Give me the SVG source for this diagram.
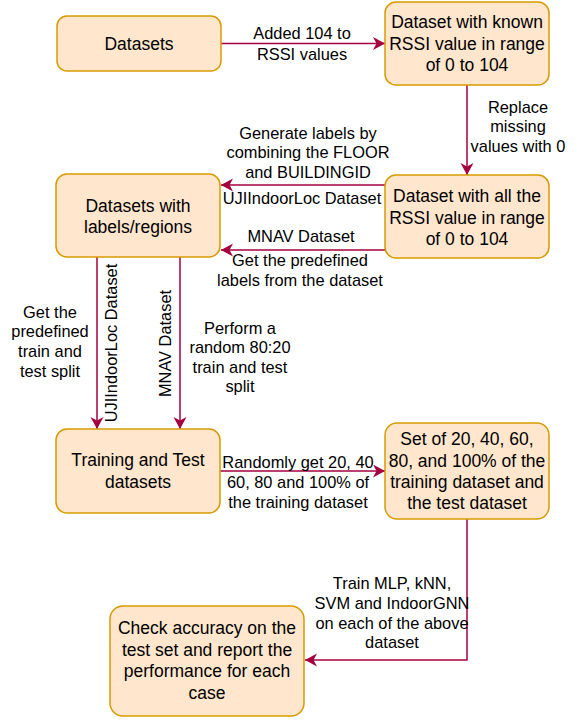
<svg xmlns="http://www.w3.org/2000/svg" width="581" height="720" viewBox="0 0 581 720">
<style>
.node rect{fill:#ffe6cc;stroke:#d79b00;stroke-width:1.5}
.node text{font-family:"Liberation Sans",Arial,sans-serif;font-size:17.5px;fill:#000;text-anchor:middle}
.lbl{font-family:"Liberation Sans",Arial,sans-serif;font-size:16.4px;fill:#000;text-anchor:middle}
.edge{fill:none;stroke:#a50040;stroke-width:1.5}
</style>
<defs>
<marker id="arr" markerUnits="userSpaceOnUse" markerWidth="14" markerHeight="14" refX="12" refY="6.5" orient="auto">
<path d="M0,0 L12,6.5 L0,13 L3.5,6.5 Z" fill="#a50040"/>
</marker>
</defs>
<rect width="581" height="720" fill="#fff"/>
<g id="connectors">
<path class="edge" d="M221,43.5 H385" marker-end="url(#arr)"/>
<path class="edge" d="M467,85 V175" marker-end="url(#arr)"/>
<path class="edge" d="M385,185 H221" marker-end="url(#arr)"/>
<path class="edge" d="M385,250 H221" marker-end="url(#arr)"/>
<path class="edge" d="M97,257 V429" marker-end="url(#arr)"/>
<path class="edge" d="M180,257 V429" marker-end="url(#arr)"/>
<path class="edge" d="M220,471 H385" marker-end="url(#arr)"/>
<path class="edge" d="M467,519 V660 H305" marker-end="url(#arr)"/>
<text class="lbl" x="302" y="39">Added 104 to</text>
<text class="lbl" x="302" y="60">RSSI values</text>
<text class="lbl" x="518" y="113">Replace</text>
<text class="lbl" x="518" y="132">missing</text>
<text class="lbl" x="518" y="152">values with 0</text>
<text class="lbl" x="308" y="139">Generate labels by</text>
<text class="lbl" x="308" y="158">combining the FLOOR</text>
<text class="lbl" x="308" y="178">and BUILDINGID</text>
<text class="lbl" x="302" y="204">UJIIndoorLoc Dataset</text>
<text class="lbl" x="301" y="242">MNAV Dataset</text>
<text class="lbl" x="300" y="266">Get the predefined</text>
<text class="lbl" x="300" y="286">labels from the dataset</text>
<text class="lbl" x="50" y="318">Get the</text>
<text class="lbl" x="50" y="337">predefined</text>
<text class="lbl" x="50" y="357">train and</text>
<text class="lbl" x="50" y="377">test split</text>
<text class="lbl" transform="translate(117,343) rotate(-90)">UJIIndoorLoc Dataset</text>
<text class="lbl" transform="translate(171,343.5) rotate(-90)">MNAV Dataset</text>
<text class="lbl" x="240" y="334">Perform a</text>
<text class="lbl" x="240" y="353">random 80:20</text>
<text class="lbl" x="240" y="373">train and test</text>
<text class="lbl" x="240" y="392">split</text>
<text class="lbl" x="298" y="468">Randomly get 20, 40</text>
<text class="lbl" x="298" y="488">60, 80 and 100% of</text>
<text class="lbl" x="298" y="508">the training dataset</text>
<text class="lbl" x="392" y="589">Train MLP, kNN,</text>
<text class="lbl" x="392" y="609">SVM and IndoorGNN</text>
<text class="lbl" x="392" y="629">on each of the above</text>
<text class="lbl" x="392" y="648">dataset</text>
</g>
<g id="n1" class="node">
<rect x="57" y="16" width="164" height="55" rx="10"/>
<text x="139" y="50">Datasets</text>
</g>
<g id="n2" class="node">
<rect x="385" y="2" width="164" height="83" rx="11"/>
<text x="467" y="28">Dataset with known</text>
<text x="467" y="49.5">RSSI value in range</text>
<text x="467" y="71">of 0 to 104</text>
</g>
<g id="n3" class="node">
<rect x="385" y="175" width="164" height="83" rx="11"/>
<text x="467" y="202">Dataset with all the</text>
<text x="467" y="223.5">RSSI value in range</text>
<text x="467" y="245">of 0 to 104</text>
</g>
<g id="n4" class="node">
<rect x="56" y="174" width="164" height="83" rx="11"/>
<text x="138" y="211.5">Datasets with</text>
<text x="138" y="233">labels/regions</text>
</g>
<g id="n5" class="node">
<rect x="56" y="429" width="164" height="84" rx="11"/>
<text x="138" y="466">Training and Test</text>
<text x="138" y="488">datasets</text>
</g>
<g id="n6" class="node">
<rect x="385" y="423" width="164" height="96" rx="12"/>
<text x="467" y="445">Set of 20, 40, 60,</text>
<text x="467" y="466.5">80, and 100% of the</text>
<text x="467" y="488">training dataset and</text>
<text x="467" y="509">the test dataset</text>
</g>
<g id="n7" class="node">
<rect x="110" y="606" width="194" height="110" rx="13"/>
<text x="207" y="634">Check accuracy on the</text>
<text x="207" y="655.5">test set and report the</text>
<text x="207" y="677">performance for each</text>
<text x="207" y="698.5">case</text>
</g>
</svg>
